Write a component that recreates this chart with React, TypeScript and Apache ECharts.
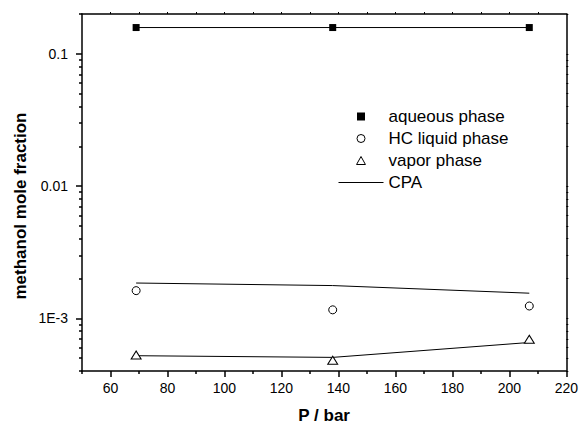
import React, { useEffect, useRef } from "react";
import * as echarts from "echarts";

const pressure = [69, 138, 207];
const aqueous = [0.158, 0.158, 0.158];
const hcLiquid = [1.62e-3, 1.16e-3, 1.24e-3];
const vapor = [5.28e-4, 4.82e-4, 6.96e-4];
const cpaAqueous = [0.158, 0.158, 0.158];
const cpaHc = [1.85e-3, 1.77e-3, 1.55e-3];
const cpaVapor = [5.22e-4, 5.07e-4, 6.57e-4];

const xMajor = [60, 80, 100, 120, 140, 160, 180, 200, 220];
const xMinor = [50, 70, 90, 110, 130, 150, 170, 190, 210];
const xTop = [60, 70, 80, 90, 100, 110, 120, 130, 140, 150, 160, 170, 180, 190, 200, 210];
const yMajor = [0.001, 0.01, 0.1];
const yMinor = [
  0.0004, 0.0005, 0.0006, 0.0007, 0.0008, 0.0009,
  0.002, 0.003, 0.004, 0.005, 0.006, 0.007, 0.008, 0.009,
  0.02, 0.03, 0.04, 0.05, 0.06, 0.07, 0.08, 0.09, 0.2,
];
const yLabelText: Record<string, string> = { "-3": "1E-3", "-2": "0.01", "-1": "0.1" };
const yTitle = "methanol mole fraction";
const xTitle = "P / bar";

const FONT = "Liberation Sans, Arial, Helvetica, sans-serif";
const X_MIN = 50, X_MAX = 220, Y_MIN = 0.0004, Y_MAX = 0.2;

const ICON_SQUARE = "path://M0,0H10V10H0Z";
const ICON_CIRCLE = "path://M5,0A5,5 0 1 1 5,10A5,5 0 1 1 5,0Z";
const ICON_TRIANGLE = "path://M5,0L10,9L0,9Z";

const pair = (ys: number[]) => pressure.map((x, i) => [x, ys[i]]);

export default function App() {
  const ref = useRef<HTMLDivElement>(null);
  useEffect(() => {
    const chart = echarts.init(ref.current!, null, { renderer: "svg" });
    const line = { color: "#000", width: 1.5 };
    const baseX = { type: "value", min: X_MIN, max: X_MAX, splitLine: { show: false } };
    const baseY = { type: "log", logBase: 10, min: Y_MIN, max: Y_MAX, splitLine: { show: false } };
    const filled = { color: "#000", borderWidth: 0, opacity: 1 };
    const hollow = { color: "#fff", borderColor: "#000", borderWidth: 1, opacity: 1 };
    chart.setOption({
      animation: false,
      backgroundColor: "#fff",
      grid: { left: 82, top: 14, width: 487, height: 360 },
      graphic: [
        {
          type: "text",
          x: 20,
          y: 206,
          rotation: Math.PI / 2,
          style: {
            text: yTitle,
            font: `bold 17px ${FONT}`,
            fill: "#000",
            align: "center",
            verticalAlign: "middle",
          },
        },
      ],
      legend: {
        orient: "vertical",
        left: 338,
        top: 108,
        padding: 0,
        itemWidth: 45,
        itemHeight: 8,
        itemGap: 5,
        symbolKeepAspect: true,
        data: [
          { name: "aqueous phase", icon: ICON_SQUARE, itemStyle: filled },
          { name: "HC liquid phase", icon: ICON_CIRCLE, itemStyle: hollow },
          { name: "vapor phase", icon: ICON_TRIANGLE, itemStyle: hollow },
          { name: "CPA", itemStyle: { opacity: 0 }, lineStyle: { color: "#000", width: 1 } },
        ],
        textStyle: { fontFamily: FONT, fontSize: 17, color: "#000", lineHeight: 17 },
      },
      xAxis: [
        {
          ...baseX,
          position: "bottom",
          axisLine: { show: true, lineStyle: line },
          axisTick: { show: true, customValues: xMajor, length: 6, lineStyle: line },
          axisLabel: { customValues: xMajor, margin: 10, fontFamily: FONT, fontSize: 14, color: "#000" },
          name: xTitle,
          nameLocation: "middle",
          nameGap: 36,
          nameTextStyle: { fontFamily: FONT, fontSize: 17, fontWeight: "bold", color: "#000" },
        },
        {
          ...baseX,
          position: "bottom",
          axisLine: { show: false },
          axisTick: { show: true, customValues: xMinor, length: 3, lineStyle: line },
          axisLabel: { show: false },
        },
        {
          ...baseX,
          position: "top",
          axisLine: { show: true, lineStyle: line },
          axisTick: { show: true, customValues: xTop, length: 2, lineStyle: { color: "#000", width: 1 } },
          axisLabel: { show: false },
        },
      ],
      yAxis: [
        {
          ...baseY,
          position: "left",
          axisLine: { show: true, lineStyle: line },
          axisTick: { show: true, customValues: yMajor, length: 6, lineStyle: line },
          axisLabel: {
            customValues: yMajor,
            margin: 14,
            fontFamily: FONT,
            fontSize: 14,
            color: "#000",
            formatter: (v: number) => yLabelText[String(Math.round(Math.log10(v)))] ?? "",
          },
        },
        {
          ...baseY,
          position: "left",
          axisLine: { show: false },
          axisTick: { show: true, customValues: yMinor, length: 3, lineStyle: line },
          axisLabel: { show: false },
        },
        {
          ...baseY,
          position: "right",
          axisLine: { show: true, lineStyle: line },
          axisTick: { show: true, customValues: [...yMajor, ...yMinor], length: 2, lineStyle: { color: "#000", width: 1 } },
          axisLabel: { show: false },
        },
      ],
      series: [
        {
          name: "CPA", type: "line", data: pair(cpaAqueous), symbol: "none",
          lineStyle: { color: "#000", width: 1 }, itemStyle: { color: "#000" }, z: 2,
        },
        {
          name: "CPA", type: "line", data: pair(cpaHc), symbol: "none",
          lineStyle: { color: "#000", width: 1 }, itemStyle: { color: "#000" }, z: 2,
        },
        {
          name: "CPA", type: "line", data: pair(cpaVapor), symbol: "none",
          lineStyle: { color: "#000", width: 1 }, itemStyle: { color: "#000" }, z: 2,
        },
        {
          name: "aqueous phase", type: "scatter", data: pair(aqueous), symbol: "rect", symbolSize: 7,
          itemStyle: filled, z: 3,
        },
        {
          name: "HC liquid phase", type: "scatter", data: pair(hcLiquid), symbol: "circle", symbolSize: 8,
          itemStyle: hollow, z: 3,
        },
        {
          name: "vapor phase", type: "scatter", data: pair(vapor), symbol: "triangle", symbolSize: [10, 8],
          itemStyle: hollow, z: 3,
        },
      ],
    });
    return () => chart.dispose();
  }, []);
  return (
    <div
      ref={ref}
      style={{ position: "fixed", left: 0, top: 0, width: 581, height: 429, background: "#fff" }}
    />
  );
}
